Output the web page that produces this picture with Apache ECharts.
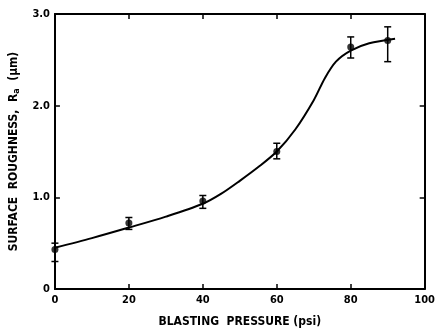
<!DOCTYPE html>
<html>
<head>
<meta charset="utf-8">
<script src="https://cdn.jsdelivr.net/npm/echarts@6/dist/echarts.min.js"></script>
<style>
  html, body { margin: 0; padding: 0; background: #fff; }
  #main { width: 438px; height: 333px; }
</style>
</head>
<body>
<div id="main"></div>
<script>
// measured points with error bars
var pressure = [0, 20, 40, 60, 80, 90];
var roughness = [0.43, 0.72, 0.96, 1.50, 2.64, 2.71];
var errLow = [0.30, 0.65, 0.88, 1.42, 2.52, 2.48];
var errHigh = [0.50, 0.78, 1.02, 1.59, 2.75, 2.86];

// fitted curve drawn through the data
var curveX = [0, 10, 20, 30, 40, 45, 50, 55, 60, 65, 70, 73, 76, 80, 85, 92];
var curveY = [0.45, 0.555, 0.67, 0.79, 0.93, 1.04, 1.18, 1.33, 1.50, 1.74, 2.06, 2.30, 2.48, 2.60, 2.68, 2.73];

var xTicks = [0, 20, 40, 60, 80, 100];
var yTicks = [0, 1.0, 2.0, 3.0];

var font = 'DejaVu Sans Condensed';

var points = pressure.map(function(x, i) { return [x, roughness[i]]; });
var bars = pressure.map(function(x, i) { return [x, errLow[i], errHigh[i]]; });
var curve = curveX.map(function(x, i) { return [x, curveY[i]]; });

var myChart = echarts.init(document.getElementById('main'));

var axisBase = {
    axisLine: { show: true, onZero: false, lineStyle: { color: '#000', width: 2 } },
    axisTick: { show: true, inside: true, length: 5, lineStyle: { color: '#000', width: 1.5 } },
    splitLine: { show: false }
};

var nameStyle = { fontFamily: font, fontWeight: 'bold', fontSize: 12, color: '#000' };

var option = {
    animation: false,
    backgroundColor: '#fff',
    grid: { left: 53, right: 11, top: 14, bottom: 43 },
    xAxis: [
        Object.assign({}, axisBase, {
            type: 'value', min: 0, max: 100, interval: 20, position: 'bottom',
            name: 'BLASTING  PRESSURE (psi)', nameLocation: 'middle', nameGap: 27,
            nameTextStyle: nameStyle,
            axisLabel: { fontFamily: font, fontWeight: 'bold', fontSize: 11, color: '#000', margin: 6 }
        }),
        Object.assign({}, axisBase, {
            type: 'value', min: 0, max: 100, interval: 20, position: 'top',
            axisLabel: { show: false }
        })
    ],
    yAxis: [
        Object.assign({}, axisBase, {
            type: 'value', min: 0, max: 3, interval: 1, position: 'left',
            name: '{n|SURFACE  ROUGHNESS,  R}{s|a}{n|  (\u03bcm)}', nameLocation: 'middle', nameGap: 31,
            nameTextStyle: Object.assign({}, nameStyle, {
                rich: {
                    n: nameStyle,
                    s: { fontFamily: font, fontWeight: 'bold', fontSize: 9, color: '#000', padding: [6, 0, 0, 0] }
                }
            }),
            axisLabel: {
                fontFamily: font, fontWeight: 'bold', fontSize: 11, color: '#000', margin: 5,
                formatter: function(v) { return v === 0 ? '0' : v.toFixed(1); }
            }
        }),
        Object.assign({}, axisBase, {
            type: 'value', min: 0, max: 3, interval: 1, position: 'right',
            axisLabel: { show: false }
        })
    ],
    series: [{
        type: 'line',
        data: curve,
        smooth: 0.3,
        showSymbol: false,
        lineStyle: { color: '#000', width: 2 },
        z: 2
    }, {
        type: 'custom',
        data: bars,
        renderItem: function(params, api) {
            var top = api.coord([api.value(0), api.value(2)]);
            var bot = api.coord([api.value(0), api.value(1)]);
            var w = 3.5;
            var st = { stroke: '#000', lineWidth: 1.5 };
            return {
                type: 'group',
                children: [
                    { type: 'line', shape: { x1: top[0], y1: top[1], x2: bot[0], y2: bot[1] }, style: st },
                    { type: 'line', shape: { x1: top[0] - w, y1: top[1], x2: top[0] + w, y2: top[1] }, style: st },
                    { type: 'line', shape: { x1: bot[0] - w, y1: bot[1], x2: bot[0] + w, y2: bot[1] }, style: st }
                ]
            };
        },
        z: 3
    }, {
        type: 'scatter',
        data: points,
        symbol: 'circle',
        symbolSize: 7,
        itemStyle: { color: '#000' },
        z: 4
    }]
};

myChart.setOption(option);
</script>
</body>
</html>
